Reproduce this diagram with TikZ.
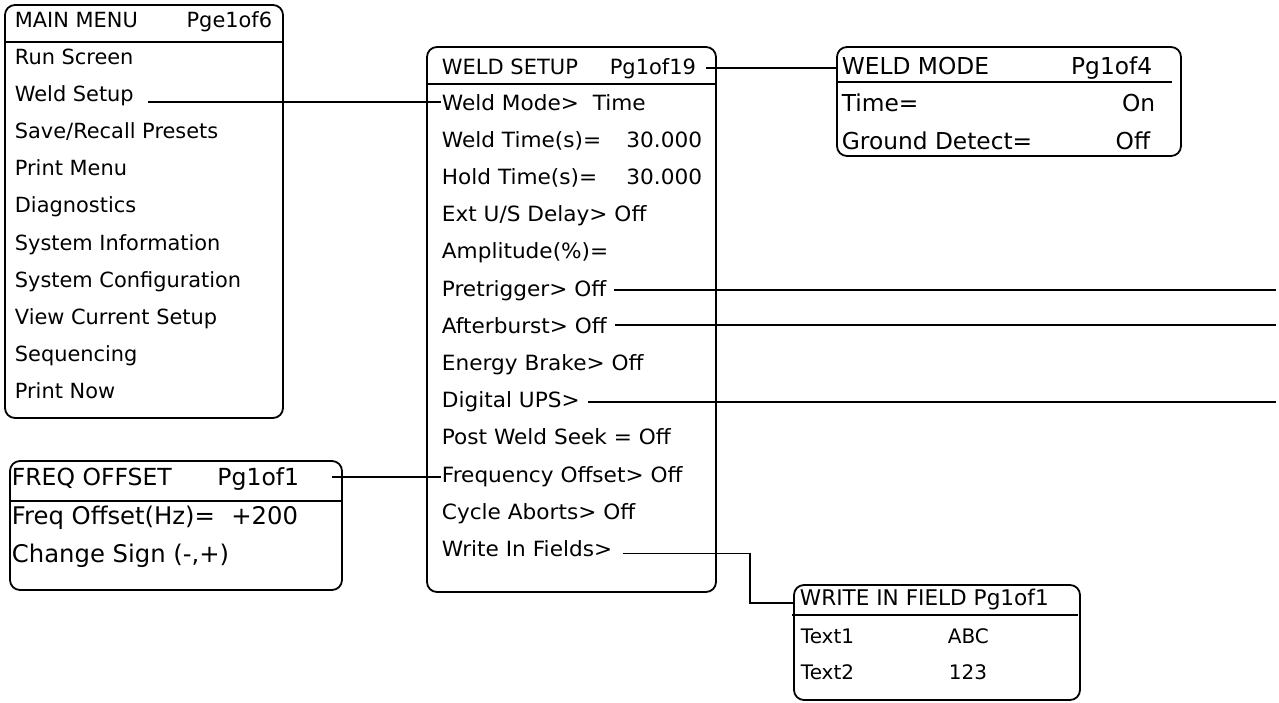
\documentclass[tikz,border=0pt]{standalone}
\usepackage{fontspec}
\setmainfont{DejaVu Sans}
\newfontfamily\famB[FakeStretch=1.03]{DejaVu Sans}
\newfontfamily\famP{DejaVu Sans}
\newcommand\fMM{\famP\fontsize{20.9}{22}\selectfont}
\newcommand\fWST{\famP\fontsize{21}{22}\selectfont}
\newcommand\fWS{\famB\fontsize{21}{22}\selectfont}
\newcommand\fWM{\famP\fontsize{23.3}{25}\selectfont}
\newcommand\fFO{\famP\fontsize{23.5}{25}\selectfont}
\newcommand\fFOR{\famP\fontsize{24.3}{25}\selectfont}
\newcommand\fWFT{\famP\fontsize{21.6}{23}\selectfont}
\newcommand\fWF{\famP\fontsize{20}{22}\selectfont}
\usetikzlibrary{calc}
\begin{document}
\begin{tikzpicture}[x=1pt,y=-1pt,line width=1.8pt,
  box/.style={draw,rounded corners=10pt,anchor=north west,inner sep=0pt,outer sep=0pt},
  lbl/.style={inner sep=0pt,anchor=base west},
  rlbl/.style={inner sep=0pt,anchor=base east},
  wire/.style={draw,line width=1.8pt}]
\useasboundingbox (0,0) rectangle (1279,702);
% boxes
\node[box,minimum width=278pt,minimum height=413pt] (mm) at (5,5) {};
\node[box,minimum width=289pt,minimum height=545pt] (ws) at (427,47) {};
\node[box,minimum width=344pt,minimum height=109pt] (wm) at (837,47) {};
\node[box,minimum width=332pt,minimum height=129pt] (fo) at (10,461) {};
\node[box,minimum width=286pt,minimum height=115pt] (wf) at (794,585) {};
% separators
\draw ($(mm.north west)+(0,36.7)$) -- ($(mm.north east)+(0,36.7)$);
\draw ($(ws.north west)+(0,37)$) -- ($(ws.north east)+(0,37)$);
\draw ($(wm.north west)+(0,35)$) -- ($(wm.north east)+(-9,35)$);
\draw ($(fo.north west)+(0,40)$) -- ($(fo.north east)+(0,40)$);
\draw ($(wf.north west)+(-2,30)$) -- ($(wf.north east)+(-2,30)$);
% main menu
\node[lbl,font=\fMM] (mmT) at (14,27) {MAIN MENU};
\node[rlbl,font=\fMM] (mmP) at (273,27) {Pge1of6};
\foreach \t [count=\i from 0] in {Run Screen,Weld Setup,Save/Recall Presets,Print Menu,Diagnostics,System Information,System Configuration,View Current Setup,Sequencing,Print Now}
  \node[lbl,font=\fMM] (mm\i) at (14,64+37.2*\i) {\t};
% weld setup
\node[lbl,font=\fWST] (wsT) at (441,74) {WELD SETUP};
\node[rlbl,font=\fWST] (wsP) at (697,74) {Pg1of19};
\node[lbl,font=\fWS] (wsMode) at (441,110) {Weld Mode>\ \ Time};
\node[lbl,font=\fWS] (wsWT) at (441,110+37.2) {Weld Time(s)=};
\node[rlbl,font=\fWS] (wsWTv) at (703,110+37.2) {30.000};
\node[lbl,font=\fWS] (wsHT) at (441,110+2*37.2) {Hold Time(s)=};
\node[rlbl,font=\fWS] (wsHTv) at (703,110+2*37.2) {30.000};
\node[lbl,font=\fWS] (wsExt) at (441,110+3*37.2) {Ext U/S Delay> Off};
\node[lbl,font=\fWS] (wsAmp) at (441,110+4*37.2) {Amplitude(\%)=};
\node[lbl,font=\fWS] (wsPre) at (441,110+5*37.2) {Pretrigger> Off};
\node[lbl,font=\fWS] (wsAft) at (441,110+6*37.2) {Afterburst> Off};
\node[lbl,font=\fWS] (wsEB) at (441,110+7*37.2) {Energy Brake> Off};
\node[lbl,font=\fWS] (wsUPS) at (441,110+8*37.2) {Digital UPS>};
\node[lbl,font=\fWS] (wsPWS) at (441,110+9*37.2) {Post Weld Seek = Off};
\node[lbl,font=\fWS] (wsFreq) at (441,110+10*37.2) {Frequency Offset> Off};
\node[lbl,font=\fWS] (wsCA) at (441,110+11*37.2) {Cycle Aborts> Off};
\node[lbl,font=\fWS] (wsWrite) at (441,110+12*37.2) {Write In Fields>};
% weld mode
\node[lbl,font=\fWM] (wmT) at (841,74) {WELD MODE};
\node[rlbl,font=\fWM] (wmP) at (1153,74) {Pg1of4};
\node[lbl,font=\fWM] (wmTime) at (841,111) {Time=};
\node[rlbl,font=\fWM] (wmOn) at (1156,111) {On};
\node[lbl,font=\fWM] (wmGD) at (841,149) {Ground Detect=};
\node[rlbl,font=\fWM] (wmOff) at (1151,149) {Off};
% freq offset
\node[lbl,font=\fFO] (foT) at (11,485) {FREQ OFFSET};
\node[rlbl,font=\fFO] (foP) at (300,485) {Pg1of1};
\node[lbl,font=\fFOR] (foF) at (11,524) {Freq Offset(Hz)=};
\node[rlbl,font=\fFOR] (foV) at (299,524) {+200};
\node[lbl,font=\fFOR] (foC) at (11,562.7) {Change Sign (-,+)};
% write in field
\node[lbl,font=\fWFT] (wfT) at (799,605) {WRITE IN FIELD Pg1of1};
\node[lbl,font=\fWF] (wfT1) at (800,643) {Text1};
\node[lbl,font=\fWF] (wfA) at (947,643) {ABC};
\node[lbl,font=\fWF] (wfT2) at (800,679) {Text2};
\node[lbl,font=\fWF] (wfB) at (948,679) {123};
% connectors
\coordinate (eR) at (1276,0);
\coordinate (a1) at ($(mm1.base east)+(13,1)$);
\draw[wire] (a1) -- (a1 -| wsMode.west);
\coordinate (a2) at ($(wsP.base east)+(9,-6)$);
\draw[wire] (a2) -- (a2 -| wm.west);
\coordinate (a3) at ($(foP.base east)+(32,-8)$);
\draw[wire] (a3) -- (a3 -| wsFreq.west);
\coordinate (a4) at ($(wsWrite.base east)+(10,-3)$);
\coordinate (k) at (750,603);
\draw[wire] (a4) -| (k) -- (k -| wf.west);
\draw[wire] ([xshift=7pt]wsPre.east) -- (wsPre.east -| eR);
\draw[wire] ([xshift=7pt]wsAft.east) -- (wsAft.east -| eR);
\draw[wire] ([xshift=7pt]wsUPS.east) -- (wsUPS.east -| eR);
\end{tikzpicture}
\end{document}
